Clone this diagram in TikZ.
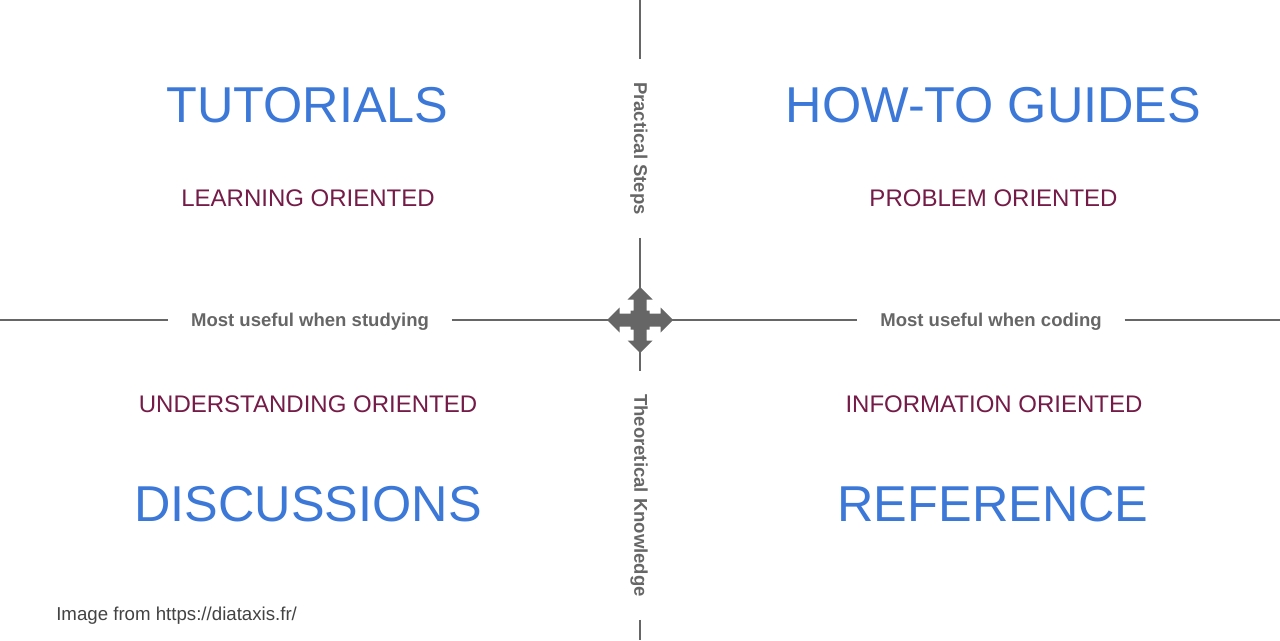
\documentclass[tikz,border=0pt]{standalone}
\usepackage{fontspec}
\setmainfont{Liberation Sans}
\definecolor{titleblue}{HTML}{3C78D8}
\definecolor{maroon}{HTML}{741B47}
\definecolor{axisgray}{HTML}{666666}
\definecolor{linegray}{HTML}{666666}
\definecolor{notegray}{HTML}{434343}
\tikzset{
  title/.style={text=titleblue, font=\fontsize{37.8}{40}\selectfont, anchor=base, inner sep=0pt},
  subtitle/.style={text=maroon, font=\fontsize{18}{20}\selectfont, anchor=base, inner sep=0pt},
  axislabel/.style={text=axisgray, font=\bfseries\fontsize{13.9}{15}\selectfont, inner ysep=0pt, inner xsep=17pt},
  axisline/.style={draw=linegray, line width=0.8pt},
  note/.style={text=notegray, font=\fontsize{14}{16}\selectfont, anchor=base west, inner sep=0pt}
}
\begin{document}
\begin{tikzpicture}[x=0.75pt, y=-0.75pt]
\useasboundingbox[fill=white] (0,0) rectangle (1280,640);

% titles
\node[title] (tut) at (307.5,122) {TUTORIALS};
\node[title] (how) at (993.5,122) {HOW-TO GUIDES};
\node[title] (dis) at (308,521) {DISCUSSIONS};
\node[title] (ref) at (993,521) {REFERENCE};

% subtitles
\node[subtitle] (lo) at (308,206) {LEARNING ORIENTED};
\node[subtitle] (po) at (993.5,206) {PROBLEM ORIENTED};
\node[subtitle] (uo) at (308,412.5) {UNDERSTANDING ORIENTED};
\node[subtitle] (io) at (994,412.5) {INFORMATION ORIENTED};

% axis labels
\node[axislabel, anchor=base] (mu1) at (310,326) {Most useful when studying};
\node[axislabel, anchor=base] (mu2) at (991,326) {Most useful when coding};
\node[axislabel, rotate=-90, anchor=center] (ps) at (639,148.5) {Practical Steps};
\node[axislabel, rotate=-90, anchor=center] (tk) at (639,495.5) {Theoretical Knowledge};

% central cross
\node[minimum size=48pt, inner sep=0pt] (cross) at (640,320) {};
\fill[axisgray] (cross.center) ++(-6.5,-9.5) -- ++(0,-11) -- ++(-6,0) -- ++(12.5,-12.5)
  -- ++(12.5,12.5) -- ++(-6,0) -- ++(0,11) -- ++(3,0) -- ++(0,3) -- ++(11,0) -- ++(0,-6)
  -- ++(12.5,12.5) -- ++(-12.5,12.5) -- ++(0,-6) -- ++(-11,0) -- ++(0,3) -- ++(-3,0)
  -- ++(0,11) -- ++(6,0) -- ++(-12.5,12.5) -- ++(-12.5,-12.5) -- ++(6,0) -- ++(0,-11)
  -- ++(-3,0) -- ++(0,-3) -- ++(-11,0) -- ++(0,6) -- ++(-12.5,-12.5) -- ++(12.5,-12.5)
  -- ++(0,6) -- ++(11,0) -- ++(0,-3) -- cycle;

% axis lines
\coordinate (L) at (0,320);
\coordinate (R) at (1280,320);
\coordinate (T) at (640,0);
\coordinate (B) at (640,640);
\draw[axisline] (L) -- (L -| mu1.west);
\draw[axisline] (mu1.east |- L) -- (cross.west);
\draw[axisline] (cross.east) -- (mu2.west |- R);
\draw[axisline] (mu2.east |- R) -- (R);
\draw[axisline] (T) -- (T |- ps.west);
\draw[axisline] (T |- ps.east) -- (cross.north);
\draw[axisline] (cross.south) -- (B |- tk.west);
\draw[axisline] (B |- tk.east) -- (B);

% note
\node[note] (src) at (56,620) {Image from https://diataxis.fr/};
\end{tikzpicture}
\end{document}
